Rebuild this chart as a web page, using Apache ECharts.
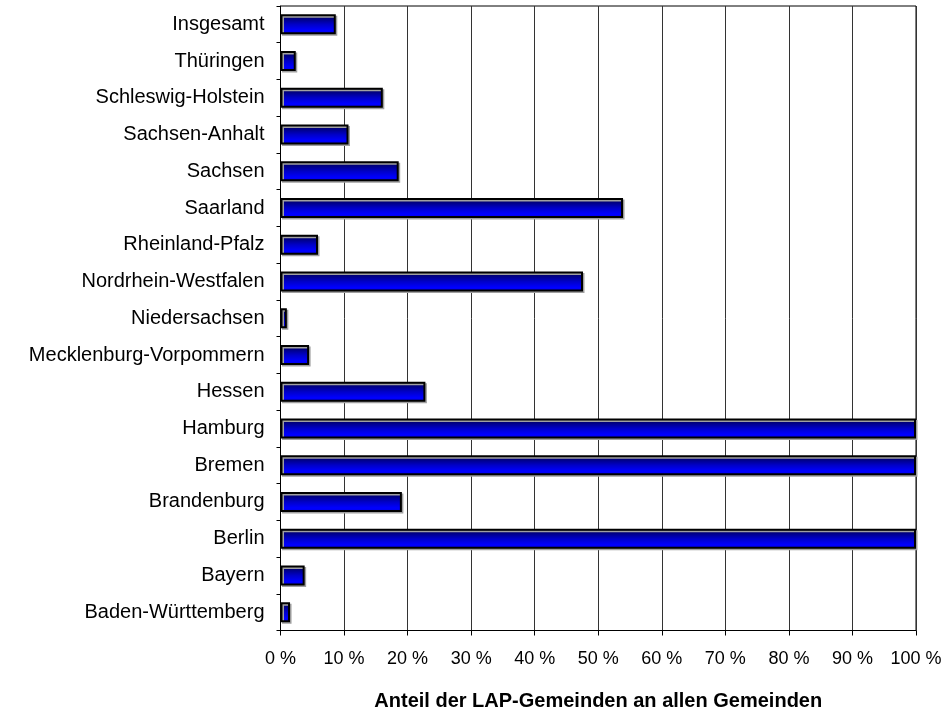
<!DOCTYPE html>
<html>
<head>
<meta charset="utf-8">
<script src="https://cdn.jsdelivr.net/npm/echarts@6/dist/echarts.min.js"></script>
<style>
  html, body { margin: 0; padding: 0; background: #fff; }
  #chart { width: 944px; height: 713px; }
</style>
</head>
<body>
<div id="chart"></div>
<script>
// Länder, listed top to bottom
const categories = [
  'Insgesamt', 'Thüringen', 'Schleswig-Holstein', 'Sachsen-Anhalt', 'Sachsen',
  'Saarland', 'Rheinland-Pfalz', 'Nordrhein-Westfalen', 'Niedersachsen',
  'Mecklenburg-Vorpommern', 'Hessen', 'Hamburg', 'Bremen', 'Brandenburg',
  'Berlin', 'Bayern', 'Baden-Württemberg'
];

// Anteil der LAP-Gemeinden (%)
const shares = [
  8.7, 2.4, 16.1, 10.7, 18.6,
  53.9, 5.9, 47.6, 1.0,
  4.5, 22.8, 100, 100, 19.1,
  100, 3.8, 1.5
];

const xTicks = [0, 10, 20, 30, 40, 50, 60, 70, 80, 90, 100];
const axisTitle = 'Anteil der LAP-Gemeinden an allen Gemeinden';

const font = 'Liberation Sans, Arial, Helvetica, sans-serif';

const chart = echarts.init(document.getElementById('chart'), null, { renderer: 'canvas' });

chart.setOption({
  animation: false,
  backgroundColor: '#ffffff',
  grid: {
    left: 280.5, right: 28, top: 6, bottom: 82.5,
    containLabel: false,
    outerBoundsMode: 'none',
    show: true, borderColor: '#000', borderWidth: 1, backgroundColor: 'transparent'
  },
  xAxis: {
    type: 'value',
    min: xTicks[0],
    max: xTicks[xTicks.length - 1],
    interval: 10,
    axisLine: { show: true, lineStyle: { color: '#000', width: 1 } },
    axisTick: { show: true, length: 5, inside: false, lineStyle: { color: '#000' } },
    splitLine: { show: true, lineStyle: { color: '#333', width: 1 } },
    axisLabel: {
      color: '#000', fontFamily: font, fontSize: 18, margin: 20,
      formatter: v => v + ' %'
    },
    name: axisTitle,
    nameLocation: 'middle',
    nameGap: 61,
    nameTextStyle: { color: '#000', fontFamily: font, fontSize: 20, fontWeight: 'bold' }
  },
  yAxis: {
    type: 'category',
    inverse: true,
    data: categories,
    boundaryGap: true,
    axisLine: { show: true, lineStyle: { color: '#000', width: 1 } },
    axisTick: { show: true, length: 4, inside: false, lineStyle: { color: '#000' } },
    splitLine: { show: false },
    axisLabel: { color: '#000', fontFamily: font, fontSize: 20, margin: 16 }
  },
  series: [{
    type: 'bar',
    data: shares,
    barWidth: 20,
    itemStyle: {
      color: new echarts.graphic.LinearGradient(0, 0, 0, 1, [
        { offset: 0, color: '#000048' },
        { offset: 0.5, color: '#0000c8' },
        { offset: 0.8, color: '#0000ff' },
        { offset: 1, color: '#0000e8' }
      ]),
      borderColor: '#000',
      borderWidth: 2,
      shadowColor: '#a0a0a0',
      shadowOffsetX: 1.5,
      shadowOffsetY: 1.5,
      shadowBlur: 0
    },
    emphasis: { disabled: true }
  }]
});
</script>
</body>
</html>
